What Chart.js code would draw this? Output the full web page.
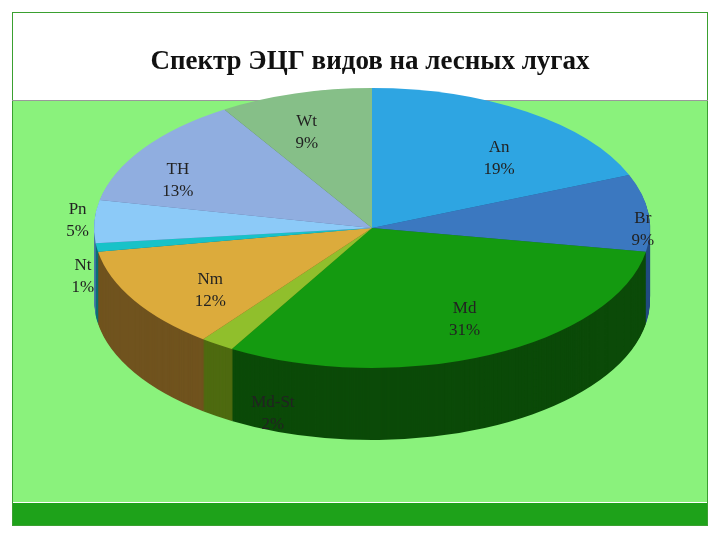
<!DOCTYPE html>
<html><head><meta charset="utf-8">
<script src="https://cdn.jsdelivr.net/npm/chart.js@4"></script>
<style>body{margin:0;background:#fff}#w{width:720px;height:540px}</style>
</head><body><div id="w"><canvas id="c"></canvas></div>
<script>
const title = "Спектр ЭЦГ видов на лесных лугах";
const categories = ["An","Br","Md","Md-St","Nm","Nt","Pn","TH","Wt"];
const values = [19,9,31,2,12,1,5,13,9];
const colors = ["#2ea5e2","#3b78c0","#149a10","#90bf2c","#dcab3c","#18c2c8","#8ccaf8","#90aee0","#86bf88"];
const sideColors = ["#1a6a98","#234c80","#0b4a08","#4e6a10","#70531e","#0c7076","#4a7aa6","#56709a","#4e7a50"];
const lfx = [.82,.98,.79,.64,.68,1.05,1.06,.85,.85];
const lfy = [.60,-.1,.72,1.60,.86,2.5,1.2,.59,.71];
const CX=372, CY=228, RX=278, RY=140, DEPTH=72;
function tf(ch){const a=ch.chartArea;const r=Math.min(a.right-a.left,a.bottom-a.top)/2;return{cx:(a.left+a.right)/2,cy:(a.top+a.bottom)/2,r};}
const plug={id:'p3d',
beforeDraw(ch){const c=ch.ctx;c.save();c.fillStyle='#fff';c.fillRect(0,0,720,540);
 c.fillStyle='#8af27c';c.fillRect(12,100,696,402);
 c.fillStyle='#1ea21a';c.fillRect(12,503,696,23);
 c.strokeStyle='#3aa030';c.lineWidth=1;c.strokeRect(12.5,12.5,695,513);
 c.strokeStyle='#9a9a9a';c.beginPath();c.moveTo(12,100.5);c.lineTo(708,100.5);c.stroke();
 c.fillStyle='#111';c.font='bold 27px "Liberation Serif"';c.textAlign='center';c.textBaseline='middle';c.fillText(title,370,62);
 c.restore();},
beforeDatasetsDraw(ch){const c=ch.ctx;const t=tf(ch);const s=t.r/RY;
 c.save();c.translate(CX,CY);c.scale(RX/t.r,RY/t.r);c.translate(-t.cx,-t.cy);
 const arcs=ch.getDatasetMeta(0).data;
 for(let d=DEPTH;d>0;d-=1){arcs.forEach((a,i)=>{c.fillStyle=sideColors[i];c.beginPath();c.moveTo(a.x,a.y+d*s);c.arc(a.x,a.y+d*s,a.outerRadius,a.startAngle,a.endAngle);c.closePath();c.fill();});}
},
afterDatasetsDraw(ch){const c=ch.ctx;c.restore();
 c.save();c.font='17px "Liberation Serif"';c.fillStyle='#222';c.textAlign='center';c.textBaseline='middle';
 ch.getDatasetMeta(0).data.forEach((a,i)=>{const m=(a.startAngle+a.endAngle)/2;const x=CX+Math.cos(m)*RX*lfx[i];const y=CY+Math.sin(m)*RY*lfy[i];
  c.fillText(categories[i],x,y-11);c.fillText(values[i]+'%',x,y+11);});
 c.restore();}};
new Chart(document.getElementById('c'),{type:'pie',
 data:{labels:categories,datasets:[{data:values,backgroundColor:colors,borderWidth:0}]},
 options:{responsive:true,maintainAspectRatio:false,animation:false,
  plugins:{legend:{display:false},tooltip:{enabled:false}}},
 plugins:[plug]});
</script></body></html>
